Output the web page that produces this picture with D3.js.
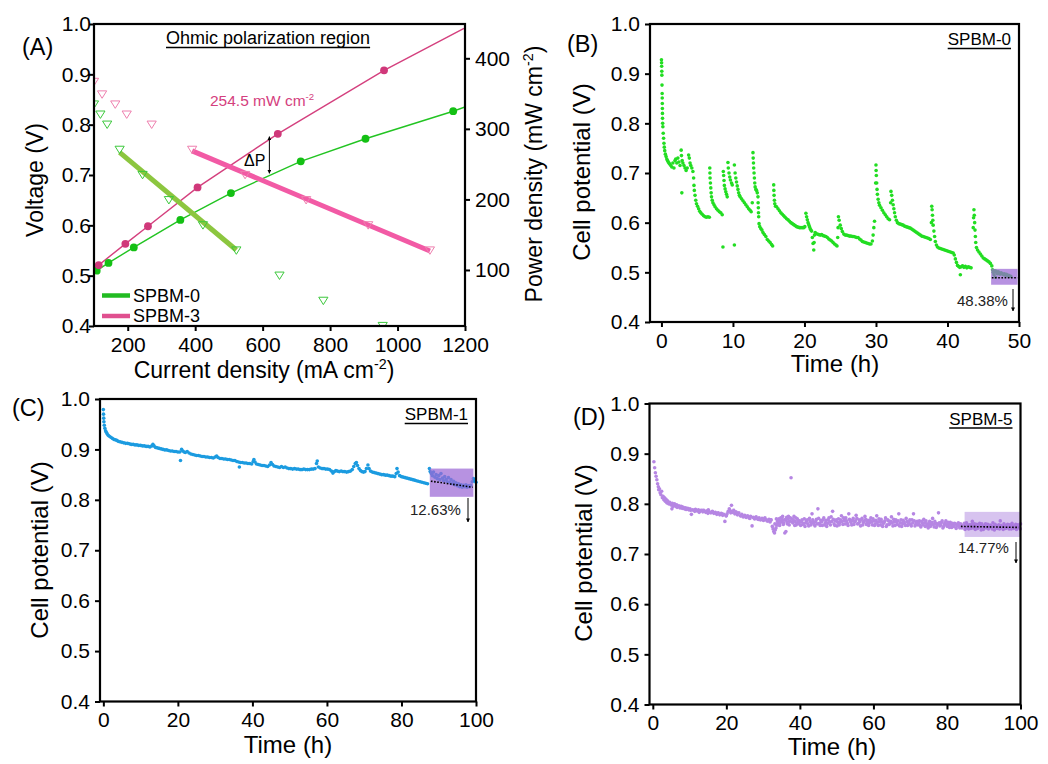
<!DOCTYPE html>
<html><head><meta charset="utf-8">
<script src="https://cdn.jsdelivr.net/npm/d3@7"></script>
<style>body{margin:0;background:#fff}</style>
</head><body><svg id="c" width="1048" height="764"></svg>
<script>
// ---------------- DATA ----------------
// Panel A: power density (right axis)
const powerCurrent0 = [108,143,218,356,506,713,905,1165];
const power0        = [99,110,132,171,209,254,286,325];
const powerCurrent3 = [114,193,260,407,645,960];
const power3        = [107,137,162,217,293,383];
const powerLineEnds0 = [[100,97],[1200,331]];
const powerLineEnds3 = [[100,104],[1197,442.5]];
// Panel A: voltage (left axis)
const voltCurrent0 = [100,119,139,176,244,322,423,522,650,780,956];
const volt0        = [0.84,0.82,0.80,0.75,0.70,0.65,0.60,0.55,0.50,0.45,0.40];
const voltCurrent3 = [100,124,163,197,271,391,548,729,913,1096];
const volt3        = [0.885,0.86,0.84,0.82,0.80,0.75,0.70,0.65,0.60,0.55];
const ohmicFit0 = [[176,0.745],[522,0.551]];
const ohmicFit3 = [[391,0.748],[1096,0.549]];
const seriesA = ["SPBM-0","SPBM-3"];
const tickA_x = [200,400,600,800,1000,1200];
const tickA_yL = [0.4,0.5,0.6,0.7,0.8,0.9,1.0];
const tickA_yR = [100,200,300,400];

// Panel B: SPBM-0 stability (time h, cell potential V)
const dataB = [[0,0.928],[0.02,0.922],[0.03,0.915],[0.05,0.905],[0.06,0.897],[0.08,0.877],[0.1,0.86],[0.11,0.851],[0.12,0.84],[0.13,0.83],[0.14,0.82],[0.15,0.81],[0.17,0.8],[0.2,0.793],[0.25,0.78],[0.3,0.77],[0.35,0.76],[0.4,0.752],[0.46,0.745],[0.55,0.738],[0.65,0.733],[0.75,0.728],[0.85,0.725],[0.95,0.722],[1.05,0.72],[1.15,0.718],[1.3,0.715],[1.45,0.712],[1.6,0.72],[1.75,0.71],[1.9,0.725],[2.0,0.728],[2.15,0.72],[2.3,0.73],[2.45,0.722],[2.6,0.715],[2.76,0.746],[2.8,0.735],[2.85,0.66],[2.9,0.725],[3.0,0.72],[3.15,0.715],[3.3,0.71],[3.45,0.705],[3.6,0.71],[3.8,0.736],[3.9,0.73],[4.0,0.72],[4.1,0.715],[4.25,0.71],[4.4,0.703],[4.5,0.69],[4.55,0.675],[4.6,0.665],[4.7,0.655],[4.8,0.645],[4.9,0.638],[5.05,0.633],[5.2,0.628],[5.35,0.623],[5.5,0.62],[5.7,0.617],[5.9,0.614],[6.1,0.612],[6.3,0.611],[6.5,0.612],[6.7,0.611],
[6.76,0.71],[6.78,0.7],[6.8,0.69],[6.85,0.68],[6.9,0.67],[6.95,0.66],[7.0,0.652],[7.1,0.645],[7.2,0.64],[7.35,0.636],[7.5,0.632],[7.7,0.628],[7.9,0.625],[8.1,0.622],[8.3,0.62],[8.5,0.616],[8.6,0.551],
[8.65,0.703],[8.7,0.695],[8.75,0.685],[8.8,0.675],[8.9,0.668],[9.0,0.662],[9.1,0.657],[9.2,0.652],[9.3,0.721],[9.35,0.71],[9.45,0.7],[9.55,0.692],[9.65,0.686],[9.8,0.68],[9.9,0.676],
[10.2,0.716],[10.2,0.555],[10.3,0.7],[10.4,0.69],[10.5,0.682],[10.6,0.674],[10.7,0.667],[10.8,0.66],[10.9,0.655],[11.0,0.652],[11.2,0.648],[11.4,0.644],[11.6,0.64],[11.8,0.636],[12.0,0.632],[12.2,0.628],[12.4,0.625],[12.55,0.622],[12.7,0.64],
[12.8,0.741],[12.83,0.73],[12.87,0.72],[12.9,0.71],[12.95,0.7],[13.0,0.69],[13.05,0.68],[13.1,0.672],[13.2,0.667],[13.3,0.665],[13.4,0.66],[13.5,0.652],[13.52,0.64],[13.55,0.63],[13.57,0.62],[13.6,0.612],[13.65,0.598],[13.75,0.592],[13.9,0.588],[14.05,0.585],[14.2,0.58],[14.4,0.576],[14.6,0.572],[14.8,0.566],[15.0,0.563],[15.2,0.56],[15.4,0.556],[15.55,0.553],
[15.7,0.676],[15.72,0.665],[15.75,0.655],[15.8,0.645],[15.85,0.638],[15.95,0.633],[16.1,0.632],[16.3,0.628],[16.5,0.624],[16.7,0.62],[16.9,0.617],[17.1,0.614],[17.3,0.611],[17.5,0.608],[17.7,0.606],[17.9,0.603],[18.1,0.6],[18.3,0.598],[18.5,0.596],[18.7,0.594],[18.9,0.592],[19.1,0.591],[19.3,0.59],[19.5,0.59],[19.7,0.59],[19.9,0.59],[20.05,0.592],
[20.2,0.619],[20.3,0.612],[20.4,0.606],[20.5,0.6],[20.6,0.596],[20.7,0.592],[20.8,0.588],[20.9,0.585],[21.0,0.583],[21.1,0.57],[21.2,0.558],[21.3,0.545],[21.35,0.56],[21.4,0.575],[21.5,0.58],[21.6,0.578],[21.8,0.577],[22.0,0.576],[22.2,0.575],[22.4,0.576],[22.6,0.574],[22.8,0.573],[23.0,0.572],[23.2,0.57],[23.4,0.567],[23.6,0.565],[23.8,0.563],[24.0,0.56],[24.2,0.557],[24.4,0.555],[24.55,0.553],
[24.65,0.57],[24.7,0.59],[24.75,0.612],[24.85,0.605],[25.0,0.595],[25.15,0.588],[25.3,0.582],[25.5,0.577],[25.7,0.575],[25.9,0.575],[26.1,0.574],[26.3,0.573],[26.5,0.573],[26.7,0.572],[26.9,0.572],[27.1,0.571],[27.3,0.57],[27.5,0.57],[27.7,0.567],[27.9,0.565],[28.1,0.562],[28.3,0.561],[28.5,0.56],[28.7,0.559],[28.9,0.558],[29.1,0.557],[29.3,0.557],[29.5,0.563],[29.6,0.575],[29.7,0.59],[29.8,0.603],
[29.95,0.68],[30.0,0.716],[30.02,0.705],[30.05,0.695],[30.1,0.68],[30.15,0.667],[30.2,0.657],[30.3,0.647],[30.4,0.64],[30.5,0.635],[30.7,0.63],[30.9,0.625],[31.1,0.62],[31.3,0.616],[31.5,0.612],[31.7,0.608],[31.9,0.606],
[32.05,0.64],[32.1,0.663],[32.2,0.655],[32.3,0.645],[32.4,0.636],[32.5,0.628],[32.6,0.62],[32.7,0.612],[32.85,0.605],[33.0,0.6],[33.2,0.598],[33.4,0.597],[33.6,0.596],[33.8,0.595],[34.0,0.593],[34.2,0.592],[34.4,0.591],[34.6,0.59],[34.8,0.589],[35.0,0.587],[35.2,0.585],[35.4,0.583],[35.6,0.581],[35.8,0.579],[36.0,0.577],[36.2,0.575],[36.4,0.573],[36.6,0.572],[36.8,0.571],[37.0,0.57],[37.2,0.569],[37.4,0.568],[37.6,0.566],
[37.75,0.6],[37.8,0.633],[37.85,0.626],[37.9,0.615],[37.95,0.605],[38.0,0.595],[38.1,0.583],[38.2,0.572],[38.3,0.562],[38.45,0.555],[38.6,0.551],[38.8,0.549],[39.0,0.548],[39.2,0.547],[39.4,0.546],[39.6,0.545],[39.8,0.544],[40.0,0.543],[40.2,0.542],[40.4,0.541],[40.6,0.54],[40.8,0.539],[40.95,0.535],[41.1,0.527],[41.25,0.52],[41.4,0.514],[41.55,0.512],[41.7,0.51],[41.8,0.495],[41.9,0.511],[42.1,0.513],[42.3,0.51],[42.5,0.512],[42.7,0.509],[42.9,0.511],[43.1,0.51],[43.3,0.509],
[43.6,0.59],[43.65,0.61],[43.7,0.626],[43.75,0.615],[43.8,0.6],[43.85,0.585],[43.9,0.572],[43.95,0.56],[44.05,0.55],[44.2,0.545],[44.4,0.541],[44.6,0.537],[44.8,0.533],[45.0,0.529],[45.2,0.527],[45.4,0.525],[45.6,0.523],[45.8,0.521],[46.0,0.518],[46.2,0.513],
[46.3,0.505],[46.4,0.5],[46.5,0.495],[46.6,0.503],[46.7,0.49],[46.8,0.502],[46.9,0.499],[47.0,0.497],[47.1,0.501],[47.2,0.498],[47.35,0.496],[47.5,0.499],[47.65,0.497],[47.8,0.495],[47.95,0.497],[48.1,0.494],[48.25,0.496],[48.4,0.493],[48.55,0.494],[48.7,0.492],[48.85,0.492]];

// Panel C: SPBM-1 stability
const dataC = [[0,0.979],[0.05,0.97],[0.1,0.962],[0.15,0.955],[0.25,0.948],[0.4,0.942],[0.6,0.937],[0.8,0.934],[1.0,0.931],[1.3,0.928],[1.6,0.926],[2.0,0.924],[2.4,0.922],[2.8,0.92],[3.2,0.919],[3.6,0.918],[4.0,0.916],[4.5,0.915],[5.0,0.914],[5.5,0.913],[6.0,0.912],[6.5,0.912],[7.0,0.911],[7.5,0.91],[8.0,0.91],[8.5,0.909],[9.0,0.909],[9.5,0.908],[10.0,0.908],[10.5,0.907],[11.0,0.907],[11.5,0.906],[12.0,0.906],[12.5,0.905],[13.0,0.907],[13.3,0.91],[13.6,0.907],[14.0,0.904],[14.5,0.903],[15.0,0.902],[15.5,0.901],[16.0,0.9],[16.5,0.899],[17.0,0.899],[17.5,0.898],[18.0,0.897],[18.5,0.897],[19.0,0.896],[19.5,0.896],[20.0,0.895],[20.5,0.895],[20.7,0.878],[21.0,0.9],[21.3,0.897],[21.7,0.895],[22.0,0.894],[22.5,0.896],[23.0,0.893],[23.5,0.891],[24.0,0.89],[24.5,0.889],[25.0,0.888],[25.5,0.888],[26.0,0.887],[26.5,0.886],[27.0,0.886],[27.5,0.885],[28.0,0.885],[28.5,0.884],[29.0,0.884],[29.5,0.883],[30.0,0.885],[30.4,0.887],[30.8,0.884],[31.3,0.882],[31.8,0.882],[32.3,0.881],[32.8,0.881],[33.3,0.88],[33.8,0.88],[34.3,0.879],[34.8,0.878],[35.3,0.878],[35.8,0.876],[36.3,0.875],[36.5,0.865],[36.8,0.874],[37.3,0.874],[37.8,0.873],[38.3,0.873],[38.8,0.872],[39.3,0.872],[39.8,0.871],[40.2,0.876],[40.4,0.88],[40.7,0.875],[41.1,0.871],[41.6,0.87],[42.1,0.869],[42.6,0.868],[43.1,0.868],[43.6,0.867],[44.1,0.866],[44.6,0.869],[45.0,0.874],[45.4,0.87],[45.8,0.867],[46.3,0.866],[46.8,0.865],[47.3,0.864],[47.8,0.866],[48.3,0.864],[48.8,0.865],[49.3,0.863],[49.8,0.862],[50.3,0.862],[50.8,0.861],[51.3,0.862],[51.8,0.861],[52.3,0.861],[52.8,0.86],[53.3,0.86],[53.8,0.861],[54.3,0.86],[54.8,0.86],[55.3,0.86],[55.8,0.861],[56.3,0.861],[56.8,0.862],[57.2,0.872],[57.4,0.877],[57.7,0.865],[58.2,0.863],[58.7,0.862],[59.2,0.862],[59.7,0.861],[60.2,0.861],[60.7,0.86],[61.2,0.857],[61.6,0.853],[62.0,0.856],[62.4,0.858],[62.8,0.857],[63.3,0.856],[63.8,0.857],[64.3,0.856],[64.8,0.856],[65.3,0.855],[65.8,0.856],[66.3,0.857],[66.8,0.86],[67.2,0.866],[67.6,0.872],[67.9,0.874],[68.2,0.868],[68.6,0.862],[69.0,0.858],[69.4,0.856],[69.8,0.855],[70.2,0.856],[70.6,0.862],[71.0,0.869],[71.3,0.862],[71.7,0.857],[72.2,0.855],[72.7,0.854],[73.2,0.853],[73.7,0.852],[74.2,0.851],[74.7,0.85],[75.2,0.85],[75.7,0.849],[76.2,0.849],[76.7,0.848],[77.2,0.847],[77.7,0.847],[78.2,0.846],[78.6,0.852],[78.8,0.862],[79.1,0.855],[79.5,0.848],[80.0,0.846],[80.5,0.845],[81.0,0.844],[81.5,0.843],[82.0,0.842],[82.5,0.841],[83.0,0.84],[83.5,0.839],[84.0,0.838],[84.5,0.837],[85.0,0.836],[85.5,0.835],[86.0,0.834],[86.5,0.833],[87.0,0.832],
[87.5,0.862],[87.7,0.856],[88.0,0.852],[88.3,0.848],[88.6,0.855],[89.0,0.845],[89.3,0.85],[89.6,0.842],[90.0,0.848],[90.3,0.84],[90.6,0.852],[91.0,0.843],[91.3,0.838],[91.6,0.846],[92.0,0.84],[92.3,0.836],[92.6,0.844],[93.0,0.835],[93.3,0.84],[93.6,0.832],[94.0,0.837],[94.3,0.83],[94.6,0.834],[95.0,0.828],[95.3,0.832],[95.6,0.826],[96.0,0.83],[96.3,0.825],[96.6,0.829],[97.0,0.826],[97.3,0.83],[97.6,0.825],[98.0,0.828],[98.3,0.826],[98.6,0.829],[99.0,0.836],[99.3,0.842],[99.6,0.838],[100,0.835]];

// Panel D: SPBM-5 stability
const dataD = [[0.3,0.884],[0.5,0.872],[0.7,0.862],[0.9,0.855],[1.1,0.848],[1.3,0.84],[1.5,0.834],[1.6,0.828],[1.8,0.83],[2.0,0.822],[2.2,0.818],[2.4,0.825],[2.6,0.812],[2.8,0.815],[3.0,0.808],[3.2,0.812],[3.4,0.805],[3.6,0.809],[3.8,0.802],[4.0,0.806],[4.3,0.8],[4.6,0.803],[4.9,0.798],[5.2,0.79],[5.3,0.801],[5.6,0.797],[5.9,0.8],[6.2,0.795],[6.5,0.798],[6.8,0.794],[7.1,0.796],[7.4,0.792],[7.7,0.795],[8.0,0.791],[8.3,0.793],[8.6,0.79],[8.9,0.792],[9.2,0.789],[9.5,0.791],[9.8,0.788],[10.1,0.79],[10.5,0.779],[10.8,0.788],[11.2,0.787],[11.6,0.789],[12.0,0.786],[12.4,0.788],[12.8,0.785],[13.2,0.787],[13.6,0.784],[14.0,0.786],[14.4,0.783],[14.8,0.786],[15.1,0.788],[15.4,0.784],[15.8,0.782],[16.2,0.785],[16.6,0.781],[17.0,0.783],[17.4,0.779],[17.8,0.782],[18.2,0.778],[18.6,0.781],[19.0,0.777],[19.3,0.779],[19.6,0.765],[19.9,0.776],[20.2,0.78],[20.5,0.785],[20.8,0.79],[21.1,0.786],[21.4,0.797],[21.7,0.783],[22.0,0.787],[22.3,0.78],[22.6,0.784],[23.0,0.778],[23.4,0.782],[23.8,0.776],[24.2,0.779],[24.6,0.774],[25.0,0.777],[25.4,0.773],[25.8,0.776],[26.2,0.772],[26.6,0.775],[27.0,0.756],[27.3,0.773],[27.7,0.77],[28.1,0.774],[28.5,0.77],[28.9,0.772],[29.3,0.768],[29.7,0.771],[30.1,0.767],[30.5,0.772],[30.9,0.768],[31.3,0.766],[31.6,0.769],[31.9,0.764],[32.2,0.768],
[5.5,0.795],[6.6,0.793],[7.9,0.794],[9.0,0.789],[10.3,0.787],[11.4,0.785],[12.6,0.783],[13.8,0.787],[15.0,0.781],[16.4,0.783],[17.6,0.781],[18.8,0.78],[20.0,0.776],[21.2,0.782],[22.8,0.782],[24.0,0.776],[25.2,0.775],[26.4,0.771],[27.5,0.772],[28.7,0.769],[29.9,0.77],[31.1,0.766],[32.0,0.768],
[32.5,0.755],[32.7,0.75],[32.9,0.745],[33.1,0.742],[33.3,0.748],[33.5,0.752],[33.7,0.758],[33.9,0.765],[34.1,0.762],[34.3,0.77],[34.5,0.757],[34.8,0.772],[35.0,0.765],[35.3,0.775],[35.6,0.762],[35.9,0.742],[36.1,0.768],[36.4,0.773],[36.6,0.76],[36.9,0.775],[37.2,0.765],[37.6,0.852],[37.8,0.77],[38.1,0.762],[38.4,0.775],[38.7,0.765],[39.0,0.758],[39.3,0.77],[39.6,0.762],[39.9,0.766],
[40.2,0.757],[40.6,0.768],[41.0,0.761],[41.4,0.755],[41.8,0.766],[42.2,0.76],[42.6,0.771],[43.0,0.758],[43.3,0.78],[43.7,0.763],[44.1,0.756],[44.5,0.769],[44.9,0.79],[45.3,0.761],[45.7,0.767],[46.1,0.757],[46.5,0.772],[46.9,0.762],[47.3,0.755],[47.7,0.768],[48.1,0.764],[48.5,0.774],[48.9,0.785],[49.3,0.76],[49.7,0.766],[50.1,0.756],
[50.5,0.77],[50.9,0.763],[51.3,0.776],[51.7,0.759],[52.1,0.767],[52.5,0.772],[52.9,0.761],[53.3,0.78],[53.7,0.766],[54.1,0.758],[54.5,0.771],[54.9,0.764],[55.3,0.777],[55.7,0.76],[56.1,0.768],[56.5,0.756],[56.9,0.771],[57.3,0.763],[57.7,0.775],[58.1,0.759],[58.5,0.767],[58.9,0.762],[59.3,0.772],[59.7,0.758],
[60.1,0.766],[60.5,0.76],[60.9,0.776],[61.3,0.757],[61.7,0.765],[62.1,0.769],[62.5,0.755],[62.9,0.763],[63.3,0.772],[63.7,0.758],[64.1,0.766],[64.5,0.761],[64.9,0.774],[65.3,0.756],[65.7,0.764],[66.1,0.768],[66.5,0.759],[66.9,0.78],[67.3,0.762],[67.7,0.755],[68.1,0.767],[68.5,0.76],[68.9,0.771],[69.3,0.757],[69.7,0.764],[70.1,0.759],[70.5,0.768],[70.9,0.78],[71.3,0.756],[71.7,0.763],
[72.1,0.758],[72.5,0.766],[72.9,0.754],[73.3,0.762],[73.7,0.769],[74.1,0.755],[74.5,0.76],[74.9,0.752],[75.3,0.765],[75.7,0.759],[76.1,0.771],[76.5,0.754],[76.9,0.761],[77.3,0.757],[77.7,0.782],[78.1,0.756],[78.5,0.763],[78.9,0.752],[79.3,0.76],[79.7,0.766],[80.1,0.755],[80.5,0.759],[80.9,0.763],[81.3,0.753],[81.7,0.757],[82.1,0.761],[82.5,0.751],[82.9,0.758],[83.3,0.755],
[83.7,0.76],[84.1,0.752],[84.5,0.757],[84.9,0.749],[85.3,0.762],[85.7,0.754],[86.1,0.758],[86.5,0.751],[86.9,0.765],[87.3,0.756],[87.7,0.749],[88.1,0.759],[88.5,0.753],[88.9,0.761],[89.3,0.748],[89.7,0.756],[90.1,0.752],[90.5,0.76],[90.9,0.754],[91.3,0.75],[91.7,0.757],[92.1,0.753],[92.5,0.762],[92.9,0.748],[93.3,0.756],[93.7,0.751],[94.1,0.758],[94.5,0.766],[94.9,0.753],[95.3,0.749],[95.7,0.757],[96.1,0.752],[96.5,0.759],[96.9,0.75],[97.3,0.755],[97.7,0.761],[98.1,0.751],[98.5,0.756],[98.9,0.749],[99.3,0.758],[99.7,0.753],[100,0.76],
[33.2,0.76],[33.6,0.77],[34.0,0.758],[34.4,0.766],[34.7,0.763],[35.1,0.77],[35.5,0.759],[35.8,0.768],[36.2,0.745],[36.5,0.764],[36.8,0.77],[37.1,0.758],[37.4,0.772],[37.9,0.764],[38.2,0.768],[38.6,0.757],[38.9,0.772],[39.2,0.761],[39.5,0.767],[39.8,0.76],
[40.4,0.764],[40.8,0.759],[41.2,0.77],[41.6,0.762],[42.0,0.768],[42.4,0.756],[42.8,0.765],[43.2,0.762],[43.5,0.768],[43.9,0.759],[44.3,0.765],[44.7,0.76],[45.1,0.771],[45.5,0.757],[45.9,0.764],[46.3,0.768],[46.7,0.758],[47.1,0.767],[47.5,0.761],[47.9,0.772],[48.3,0.758],[48.7,0.765],[49.1,0.769],[49.5,0.757],[49.9,0.768],
[50.3,0.763],[50.7,0.758],[51.1,0.768],[51.5,0.765],[51.9,0.772],[52.3,0.76],[52.7,0.766],[53.1,0.757],[53.5,0.769],[53.9,0.763],[54.3,0.767],[54.7,0.759],[55.1,0.766],[55.5,0.771],[55.9,0.761],[56.3,0.764],[56.7,0.768],[57.1,0.758],[57.5,0.766],[57.9,0.769],[58.3,0.763],[58.7,0.757],[59.1,0.767],[59.5,0.764],[59.9,0.77],
[60.3,0.757],[60.7,0.767],[61.1,0.763],[61.5,0.77],[61.9,0.758],[62.3,0.764],[62.7,0.761],[63.1,0.766],[63.5,0.755],[63.9,0.768],[64.3,0.759],[64.7,0.765],[65.1,0.762],[65.5,0.769],[65.9,0.757],[66.3,0.764],[66.7,0.766],[67.1,0.756],[67.5,0.768],[67.9,0.761],[68.3,0.763],[68.7,0.757],[69.1,0.765],[69.5,0.761],[69.9,0.768],[70.3,0.756],[70.7,0.762],[71.1,0.766],[71.5,0.759],[71.9,0.765],
[72.3,0.761],[72.7,0.757],[73.1,0.765],[73.5,0.758],[73.9,0.762],[74.3,0.766],[74.7,0.756],[75.1,0.761],[75.5,0.755],[75.9,0.763],[76.3,0.759],[76.7,0.765],[77.1,0.753],[77.5,0.76],[77.9,0.762],[78.3,0.758],[78.7,0.766],[79.1,0.755],[79.5,0.762],[79.9,0.758],[80.3,0.763],[80.7,0.753],[81.1,0.759],[81.5,0.761],[81.9,0.755],[82.3,0.76],[82.7,0.756],[83.1,0.762],[83.5,0.752],
[83.9,0.757],[84.3,0.755],[84.7,0.761],[85.1,0.752],[85.5,0.758],[85.9,0.75],[86.3,0.756],[86.7,0.759],[87.1,0.752],[87.5,0.76],[87.9,0.755],[88.3,0.751],[88.7,0.757],[89.1,0.754],[89.5,0.76],[89.9,0.749],[90.3,0.756],[90.7,0.752],[91.1,0.759],[91.5,0.753],[91.9,0.757],[92.3,0.75],[92.7,0.755],[93.1,0.759],[93.5,0.752],[93.9,0.756],[94.3,0.75],[94.7,0.757],[95.1,0.754],[95.5,0.76],[95.9,0.751],[96.3,0.756],[96.7,0.753],[97.1,0.758],[97.5,0.75],[97.9,0.756],[98.3,0.753],[98.7,0.759],[99.1,0.752],[99.5,0.755],[99.9,0.75]];

// Annotations (data coordinates)
const boxB = {t:[46.1,49.8], v:[0.475,0.507]}, trendB = [[46.2,0.489],[49.8,0.489]], lossB = "48.38%";
const boxC = {t:[87.6,99.3], v:[0.806,0.862]}, trendC = [[87.9,0.837],[99.1,0.825]], lossC = "12.63%";
const boxD = {t:[84.8,100], v:[0.734,0.784]}, trendD = [[83.8,0.755],[99.5,0.753]], lossD = "14.77%";
const tickTime50 = [0,10,20,30,40,50];
const tickTime100 = [0,20,40,60,80,100];
const tickV = [0.4,0.5,0.6,0.7,0.8,0.9,1.0];

// ---------------- DRAW ----------------
const F = '"Liberation Sans", Arial, Helvetica, sans-serif';
const svg = d3.select("#c");
const defs = svg.append("defs");
defs.append("marker").attr("id","ah").attr("viewBox","0 0 10 10").attr("refX",9).attr("refY",5)
  .attr("markerWidth",4).attr("markerHeight",4).attr("orient","auto-start-reverse")
  .append("path").attr("d","M0,0 L10,5 L0,10 Z").attr("fill","#000");

function txt(x,y,s,size,opt={}){
  const t = svg.append("text").attr("x",x).attr("y",y).attr("font-family",F).attr("font-size",size)
    .attr("fill",opt.fill||"#000").attr("text-anchor",opt.anchor||"start");
  if(opt.rot) t.attr("transform",`rotate(-90,${x},${y})`);
  if(Array.isArray(s)){
    let back = 0;
    s.forEach(p=>{
      if(typeof p === "object"){
        t.append("tspan").attr("dy",-size*0.38).attr("font-size",size*0.62).text(p.sup);
        back = size*0.38;
      } else { t.append("tspan").attr("dy",back).text(p); back = 0; }
    });
  } else t.text(s);
  return t;
}
function underlined(x,y,s,size,anchorEnd){
  const t = txt(x,y,s,size,{anchor:anchorEnd?"end":"start"});
  const bb = t.node().getBBox();
  svg.append("line").attr("x1",bb.x).attr("x2",bb.x+bb.width).attr("y1",y+3.5).attr("y2",y+3.5)
    .attr("stroke","#000").attr("stroke-width",1.3);
}
function styleAxis(g){
  g.select(".domain").remove();
  g.selectAll(".tick line").attr("stroke","#000").attr("stroke-width",2);
  g.selectAll(".tick text").attr("font-family",F).attr("font-size",21).attr("fill","#000");
}
function frame(p){
  svg.append("rect").attr("x",p.l).attr("y",p.t).attr("width",p.r-p.l).attr("height",p.b-p.t)
    .attr("fill","none").attr("stroke","#000").attr("stroke-width",2.2);
}

// ===== Panel A =====
const A = {l:94,t:24,r:465,b:326};
const ax = d3.scaleLinear().domain([100,1200]).range([A.l,A.r]);
const ayL = d3.scaleLinear().domain([0.4,1.0]).range([A.b,A.t]);
const ayR = d3.scaleLinear().domain([20.6,448.6]).range([A.b,A.t]);
defs.append("clipPath").attr("id","clipA").append("rect").attr("x",A.l).attr("y",A.t).attr("width",A.r-A.l).attr("height",A.b-A.t);
const gA = svg.append("g").attr("clip-path","url(#clipA)");
const lineA = d3.line().x(d=>ax(d[0])).y(d=>ayR(d[1]));
const p0 = powerCurrent0.map((c,i)=>[c,power0[i]]);
const p3 = powerCurrent3.map((c,i)=>[c,power3[i]]);
gA.append("path").attr("d",lineA([powerLineEnds0[0],...p0,powerLineEnds0[1]])).attr("fill","none").attr("stroke","#22c422").attr("stroke-width",1.4);
gA.append("path").attr("d",lineA([powerLineEnds3[0],...p3,powerLineEnds3[1]])).attr("fill","none").attr("stroke","#d4407e").attr("stroke-width",1.4);
gA.selectAll(".c0").data(p0).join("circle").attr("cx",d=>ax(d[0])).attr("cy",d=>ayR(d[1])).attr("r",3.9).attr("fill","#14c014");
gA.selectAll(".c3").data(p3).join("circle").attr("cx",d=>ax(d[0])).attr("cy",d=>ayR(d[1])).attr("r",3.9).attr("fill","#d0387a");
const lineV = d3.line().x(d=>ax(d[0])).y(d=>ayL(d[1]));
gA.append("path").attr("d",lineV(ohmicFit0)).attr("stroke","#8cc63f").attr("stroke-width",5).attr("fill","none");
gA.append("path").attr("d",lineV(ohmicFit3)).attr("stroke","#f25aa5").attr("stroke-width",5).attr("fill","none");
const tri = "M-4.6,-3.6 L4.6,-3.6 L0,3.8 Z";
gA.selectAll(".t0").data(voltCurrent0.map((c,i)=>[c,volt0[i]])).join("path").attr("d",tri)
  .attr("transform",d=>`translate(${ax(d[0])},${ayL(d[1])})`).attr("fill","none").attr("stroke","#3cc83c").attr("stroke-width",1);
gA.selectAll(".t3").data(voltCurrent3.map((c,i)=>[c,volt3[i]])).join("path").attr("d",tri)
  .attr("transform",d=>`translate(${ax(d[0])},${ayL(d[1])})`).attr("fill","none").attr("stroke","#ee7fae").attr("stroke-width",1);
// delta P arrow
svg.append("line").attr("x1",ax(620)).attr("x2",ax(620)).attr("y1",ayR(289)).attr("y2",ayR(237))
  .attr("stroke","#000").attr("stroke-width",1).attr("marker-start","url(#ah)").attr("marker-end","url(#ah)");
txt(ax(620)-4,ayR(247),"ΔP",16,{anchor:"end"});
txt(210,106,["254.5 mW cm",{sup:"-2"}],15.5,{fill:"#d4407e"});
underlined(166,44,"Ohmic polarization region",18);
// legend
svg.append("line").attr("x1",102).attr("x2",130).attr("y1",295.5).attr("y2",295.5).attr("stroke","#22bb22").attr("stroke-width",4.5);
txt(133,301.5,seriesA[0],18);
svg.append("line").attr("x1",102).attr("x2",130).attr("y1",316).attr("y2",316).attr("stroke","#e0508f").attr("stroke-width",4.5);
txt(133,322,seriesA[1],18);
// axes
styleAxis(svg.append("g").attr("transform",`translate(0,${A.b})`).call(d3.axisBottom(ax).tickValues(tickA_x).tickSize(5).tickPadding(6).tickFormat(d3.format("d"))));
styleAxis(svg.append("g").attr("transform",`translate(${A.l},0)`).call(d3.axisLeft(ayL).tickValues(tickA_yL).tickSize(5).tickPadding(-2).tickFormat(d3.format(".1f"))));
styleAxis(svg.append("g").attr("transform",`translate(${A.r},0)`).call(d3.axisRight(ayR).tickValues(tickA_yR).tickSize(5).tickPadding(5).tickFormat(d3.format("d"))));
frame(A);
txt(22,55,"(A)",23.5);
txt(43,180,"Voltage (V)",23,{anchor:"middle",rot:true});
txt(264,378,["Current density (mA cm",{sup:"-2"},")"],23,{anchor:"middle"});
txt(542,174,["Power density (mW cm",{sup:"-2"},")"],23,{anchor:"middle",rot:true});

// ===== Stability panels =====
function stability(P, xDomain, xTicks, data, color, box, boxOpacity, trend, loss, lossPos, tag, label, titleX, titleY, yTitleX, yTitleY, r){
  const x = d3.scaleLinear().domain(xDomain).range([P.l,P.r]);
  const y = d3.scaleLinear().domain([0.4,1.0]).range([P.b,P.t]);
  const g = svg.append("g");
  g.selectAll("circle").data(data).join("circle").attr("cx",d=>x(d[0])).attr("cy",d=>y(d[1])).attr("r",r).attr("fill",color);
  svg.append("rect").attr("x",x(box.t[0])).attr("y",y(box.v[1])).attr("width",x(box.t[1])-x(box.t[0])).attr("height",y(box.v[0])-y(box.v[1]))
    .attr("fill","#9b68d6").attr("opacity",boxOpacity);
  svg.append("path").attr("d",d3.line().x(d=>x(d[0])).y(d=>y(d[1]))(trend)).attr("stroke","#000").attr("stroke-width",1.6)
    .attr("stroke-dasharray","1.6,1.6").attr("fill","none");
  txt(lossPos.x,lossPos.y,loss,15,{fill:"#222"});
  svg.append("line").attr("x1",lossPos.ax).attr("x2",lossPos.ax).attr("y1",lossPos.a0).attr("y2",lossPos.a1)
    .attr("stroke","#000").attr("stroke-width",1).attr("marker-end","url(#ah)");
  styleAxis(svg.append("g").attr("transform",`translate(0,${P.b})`).call(d3.axisBottom(x).tickValues(xTicks).tickSize(5).tickPadding(6).tickFormat(d3.format("d"))));
  styleAxis(svg.append("g").attr("transform",`translate(${P.l},0)`).call(d3.axisLeft(y).tickValues(tickV).tickSize(5).tickPadding(5).tickFormat(d3.format(".1f"))));
  frame(P);
  underlined(P.r-8,P.t+21,tag,17,true);
  txt(label.x,label.y,label.s,23.5);
  txt(titleX,titleY,"Time (h)",24,{anchor:"middle"});
  txt(yTitleX,yTitleY,"Cell potential (V)",24,{anchor:"middle",rot:true});
}
stability({l:650,t:24,r:1019,b:322},[-1.6,50],tickTime50,dataB,"#22dd22",boxB,0.72,trendB,lossB,
  {x:957,y:306,ax:1013,a0:289,a1:311},"SPBM-0",{x:567,y:52,s:"(B)"},835,372,590,172,1.8);
stability({l:100,t:399,r:476,b:701.5},[-0.9,100],tickTime100,dataC,"#1b9be0",boxC,0.72,trendC,lossC,
  {x:410,y:515,ax:468,a0:498,a1:522},"SPBM-1",{x:12,y:416,s:"(C)"},288,753,48,550,1.8);
stability({l:649.5,t:403.5,r:1020.5,b:704.5},[-0.9,100],tickTime100,dataD,"#b686e3",boxD,0.4,trendD,lossD,
  {x:958,y:553,ax:1016,a0:542,a1:563},"SPBM-5",{x:573,y:425,s:"(D)"},832,755,592,553,1.8);
</script></body></html>
